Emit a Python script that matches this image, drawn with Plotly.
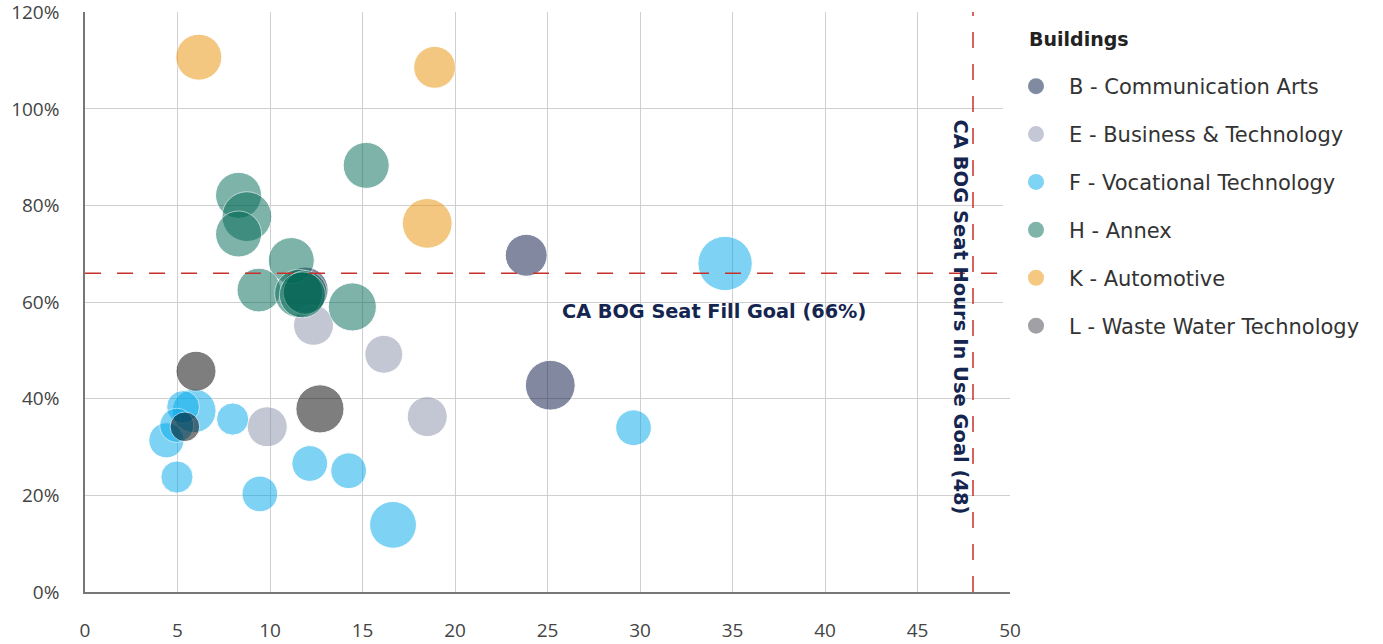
import plotly.graph_objects as go

# Room usage by building: weekly hours in use (x), seat fill rate (y), seats (bubble size)
buildings = [
    "B - Communication Arts",
    "E - Business & Technology",
    "F - Vocational Technology",
    "H - Annex",
    "K - Automotive",
    "L - Waste Water Technology",
]

b_hours = [23.85, 25.15, 11.9]
b_fill = [0.697, 0.428, 0.625]
b_seats = [44, 62, 53]

e_hours = [12.35, 16.15, 18.5, 9.85]
e_fill = [0.552, 0.492, 0.363, 0.342]
e_seats = [40, 36, 40, 40]

f_hours = [34.6, 29.65, 16.65, 14.25, 12.15, 9.45, 7.98, 4.97, 4.4, 5.9, 5.3, 4.96]
f_fill = [0.68, 0.34, 0.139, 0.251, 0.266, 0.203, 0.358, 0.238, 0.314, 0.375, 0.383, 0.345]
f_seats = [74, 32, 55, 32, 32, 32, 26, 26, 31, 48, 27, 29]

h_hours = [15.2, 8.3, 8.75, 8.3, 11.15, 9.4, 14.45, 11.55, 11.9, 11.75]
h_fill = [0.883, 0.821, 0.777, 0.741, 0.686, 0.625, 0.59, 0.618, 0.62, 0.615]
h_seats = [53, 53, 62, 53, 53, 48, 58, 58, 48, 53]

k_hours = [6.15, 18.9, 18.5]
k_fill = [1.107, 1.086, 0.763]
k_seats = [53, 44, 62]

l_hours = [6.0, 12.7, 5.4]
l_fill = [0.457, 0.379, 0.342]
l_seats = [40, 58, 22]

seat_fill_goal = 0.66
hours_goal = 48

x_ticks = [0, 5, 10, 15, 20, 25, 30, 35, 40, 45, 50]
y_ticks = [0, 0.2, 0.4, 0.6, 0.8, 1.0, 1.2]

# bubble fill (drawn at half opacity) and the solid swatch shown in the legend
series = [
    (b_hours, b_fill, b_seats, "#061441", "#808aa0"),
    (e_hours, e_fill, e_seats, "#8991A9", "#c4c8d4"),
    (f_hours, f_fill, f_seats, "#00A9EB", "#7dd4f5"),
    (h_hours, h_fill, h_seats, "#006955", "#7fb4aa"),
    (k_hours, k_fill, k_seats, "#EB9105", "#f5c882"),
    (l_hours, l_fill, l_seats, "#000000", "#a0a0a5"),
]

FONT = "Open Sans"
WIDE = "DejaVu Sans"
NAVY = "#14254f"
GOAL_RED = "#c8312a"

fig = go.Figure()
for name, (xs, ys, seats, color, swatch) in zip(buildings, series):
    fig.add_trace(go.Scatter(
        x=xs, y=ys, mode="markers", name=name, showlegend=False,
        marker=dict(size=seats, sizemode="area", sizeref=0.05, color=color,
                    opacity=0.5, line=dict(width=1, color="white")),
        cliponaxis=False,
    ))
    # legend entry with a solid swatch
    fig.add_trace(go.Scatter(
        x=[None], y=[None], mode="markers", name=name, legendgroup=name,
        marker=dict(size=16, color=swatch),
    ))

# Goal lines
fig.add_shape(type="line", xref="paper", x0=0, x1=1, yref="y",
              y0=seat_fill_goal, y1=seat_fill_goal, layer="above",
              line=dict(color=GOAL_RED, width=1.5, dash="16px,16px"))
fig.add_shape(type="line", xref="x", x0=hours_goal, x1=hours_goal, yref="paper",
              y0=0, y1=1, layer="above",
              line=dict(color=GOAL_RED, width=1.5, dash="16px,16px"))

fig.add_annotation(x=34, y=0.58, xref="x", yref="y", showarrow=False,
                   text=f"<b>CA BOG Seat Fill Goal ({seat_fill_goal:.0%})</b>",
                   font=dict(family=WIDE, size=19.3, color=NAVY))
fig.add_annotation(x=47.3, y=0.57, xref="x", yref="y", showarrow=False, textangle=90,
                   text=f"<b>CA BOG Seat Hours In Use Goal ({hours_goal})</b>",
                   font=dict(family=WIDE, size=19.5, color=NAVY))

# legend heading
fig.add_annotation(xref="paper", yref="paper", x=(1027 - 85) / 925, y=1 - (39 - 12) / 580,
                   xanchor="left", yanchor="middle", showarrow=False,
                   text="<b>Buildings</b>",
                   font=dict(family=WIDE, size=19, color="#222222"))

fig.update_layout(
    width=1383, height=644,
    margin=dict(l=85, r=373, t=12, b=52, autoexpand=False),
    paper_bgcolor="white", plot_bgcolor="white",
    font=dict(family=FONT, color="#444444"),
    legend=dict(
        font=dict(family=WIDE, size=21, color="#333333"),
        xref="container", yref="container", x=1003 / 1383, y=1 - 66 / 644,
        xanchor="left", yanchor="top", itemsizing="trace", tracegroupgap=17.6,
        itemwidth=56,
    ),
    showlegend=True,
)
fig.update_xaxes(range=[0, 50], tickvals=x_ticks, showgrid=True, gridcolor="#cfcfcf",
                 gridwidth=1, zeroline=False, showline=True, linecolor="#777777",
                 linewidth=1.5, ticks="", ticklabelstandoff=20, ticklabeloverflow="allow",
                 tickfont=dict(family=FONT, size=19, color="#444444"))
fig.update_yaxes(range=[0, 1.2005], tickvals=y_ticks, tickformat=".0%", showgrid=True,
                 gridcolor="#cfcfcf", gridwidth=1, zeroline=False, showline=True,
                 linecolor="#777777", linewidth=1.5, ticks="", ticklabelstandoff=20,
                 ticklabeloverflow="allow",
                 tickfont=dict(family=FONT, size=19, color="#444444"))

fig.write_html("out.html")
